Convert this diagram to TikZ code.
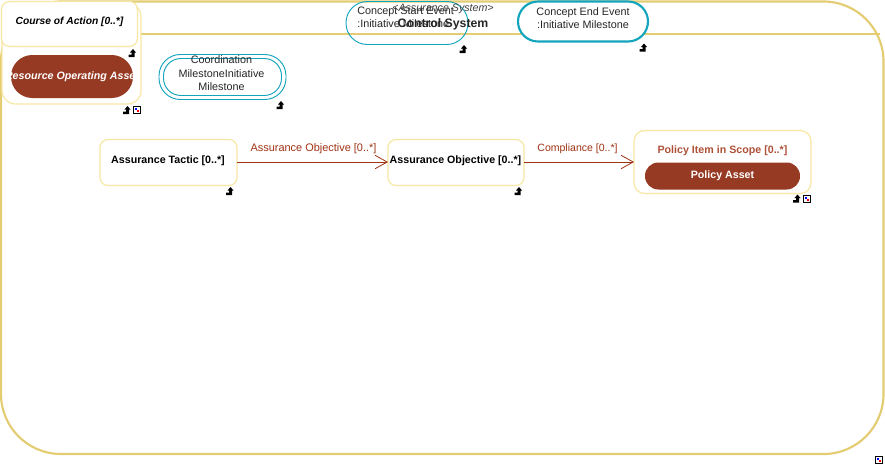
\documentclass[tikz,border=0pt]{standalone}
\usepackage{fontspec}
\setmainfont{Liberation Sans}
\usetikzlibrary{arrows.meta,positioning}
\definecolor{gold}{HTML}{E3CC72}
\definecolor{lgold}{HTML}{F8E7A4}
\definecolor{teal1}{HTML}{14A5BE}
\definecolor{rust}{HTML}{963A23}
\definecolor{lbl}{HTML}{A03214}
\newcommand{\fs}[1]{\fontsize{#1}{#1}\selectfont}
\tikzset{
  x=0.75pt,y=-0.75pt,
  wh/.style 2 args={minimum width=#1*0.75pt,minimum height=#2*0.75pt,inner sep=0pt,outer sep=0pt,anchor=north west},
  box/.style={draw=lgold,line width=0.9pt,rounded corners=6pt,fill=white},
  pill/.style={fill=rust,rounded corners=#1},
  lab/.style={font=\fs{8.1},align=center,inner sep=0pt,text=black},
  blab/.style={font=\fs{8}\bfseries,align=center,inner sep=0pt,text=black},
  rel/.style={draw=lbl,line width=0.7pt,-{Straight Barb[length=9pt,width=10pt,line width=0.6pt]}},
  rellab/.style={font=\fs{8.2},text=lbl,inner sep=0pt},
  evt/.style={draw=teal1,fill=white},
  crossmark/.pic={\fill[black] (-4.5,4) -- (-4.5,1.5) -- (-1.5,1.5) -- (-1.5,-0.5) -- (-3,-0.5) -- (0,-4) -- (3,-0.5) -- (1.5,-0.5) -- (1.5,4) -- cycle;},
  expmark/.pic={\draw[black,fill=white,line width=0.5pt] (-3.5,-3.5) rectangle (3.5,3.5);
    \fill[blue] (-2,-2) rectangle (0,0); \fill[red] (0,0) rectangle (2,2);},
}
\begin{document}
\begin{tikzpicture}
\useasboundingbox (0,0) rectangle (885,465);
\fill[white] (0,0) rectangle (885,465);
% outer container
\node[draw=gold,line width=1.6pt,rounded corners=45pt,wh={882.5}{452.5}] (sys) at (1,1.5) {};
\coordinate (hl) at (140,34);\coordinate (hr) at (880,34);
\draw[gold,line width=0.8pt] (hl) -- (hr);
% concept start event
\node[evt,line width=0.7pt,fill=none,rounded corners=16pt,wh={122}{43}] (start) at (346,1.5) {};
\node[lab,anchor=north west,align=left,text=black!85] (startt) at (357,6.5) {Concept Start Event\\[1.5pt]:Initiative Milestone};
\node[font=\fs{8}\itshape,inner sep=0pt,text=black!75] (st1) at (443,8.5) {\textless Assurance System\textgreater};
\node[font=\fs{9.2}\bfseries,inner sep=0pt,text=black!85] (st2) at (443,24.5) {Control System};
\node[evt,line width=1.6pt,rounded corners=15pt,wh={130}{40}] (end) at (518,1.5) {};
\node[lab,text=black!85] (endt) at (583,18) {Concept End Event\\[1.5pt]:Initiative Milestone};
% coordination milestone
\node[evt,line width=0.7pt,rounded corners=16pt,wh={127}{45}] (coord) at (159,54.5) {};
\node[draw=teal1,line width=0.7pt,rounded corners=13pt,wh={118}{37}] (coordi) at (163.5,58.5) {};
\node[lab,text=black!85] (coordt) at (221.5,73.5) {Coordination\\[2pt]MilestoneInitiative\\[2pt]Milestone};
% course of action group
\node[box,rounded corners=10pt,wh={139}{101}] (grp) at (2,3) {};
\node[box,rounded corners=6pt,wh={136}{45}] (coa) at (1.5,1.5) {};
\node[font=\fs{7.7}\bfseries\itshape,inner sep=0pt] (coat) at (69.5,22) {Course of Action [0..*]};
\begin{scope}
\clip (11,55) rectangle (133,98);
\node[pill=16pt,wh={122}{43},font=\fs{8}\bfseries\itshape,text=white] (roa) at (11,55) {\makebox[0pt]{Resource Operating Asset}};
\end{scope}
% assurance tactic & objective
\node[box,wh={137}{46}] (tac) at (100,139.5) {};
\node[blab] (tact) at (168,160.5) {Assurance Tactic [0..*]};
\node[box,wh={136}{46}] (obj) at (388,139.5) {};
\node[blab] (objt) at (455.5,160.5) {Assurance Objective [0..*]};
% policy
\node[box,rounded corners=8pt,wh={177}{63}] (pol) at (634,130.5) {};
\node[font=\fs{8}\bfseries,text=lbl!85,inner sep=0pt] (polt) at (722.5,151) {Policy Item in Scope [0..*]};
\node[pill=10pt,wh={155}{27},font=\fs{8}\bfseries,text=white] (asset) at (645,162.5) {\raisebox{-1.2pt}{Policy Asset}};
% connectors
\draw[rel] (tac.east |- 0,162) -- (obj.west |- 0,162);
\draw[rel] (obj.east |- 0,162) -- (pol.west |- 0,162);
\node[rellab] (l1) at (313.5,148.5) {Assurance Objective [0..*]};
\node[rellab,font=\fs{7.9}] (l2) at (577.5,148.5) {Compliance [0..*]};
% marks
\foreach \p in {(133,53),(127.5,110),(281,105),(230.5,191),(519,191),(464,49),(644,47.5),(797.5,198.5)}
  \pic at \p {crossmark};
\foreach \p in {(137,110),(807,198.5),(879,459.5)}
  \pic at \p {expmark};
\end{tikzpicture}
\end{document}
